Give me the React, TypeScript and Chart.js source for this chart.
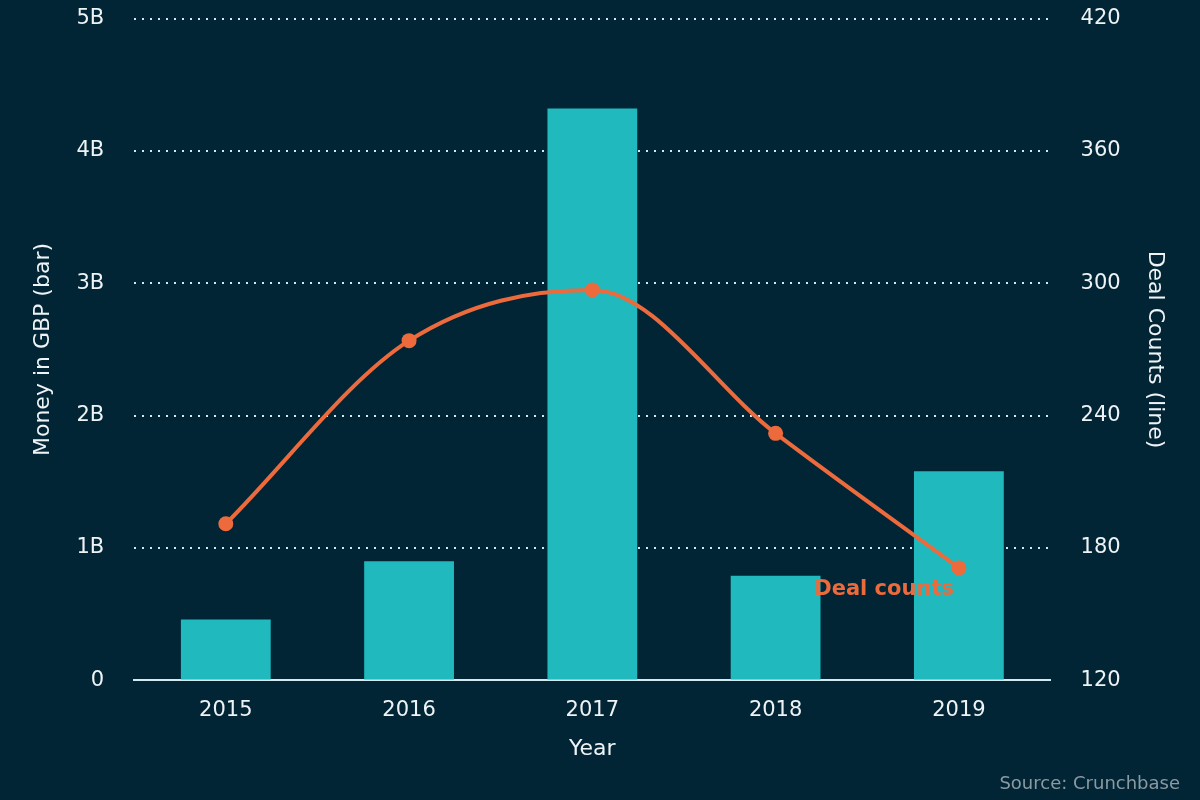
import React, { useEffect, useRef } from "react";
import { Chart, registerables } from "chart.js";

Chart.register(...registerables);

const years = ["2015", "2016", "2017", "2018", "2019"];
const moneyGBP = [0.46e9, 0.9e9, 4.32e9, 0.79e9, 1.58e9];
const dealCounts = [191, 274, 297, 232, 171];
const leftTitle = "Money in GBP (bar)";
const rightTitle = "Deal Counts (line)";
const xTitle = "Year";
const lineLabel = "Deal counts";
const sourceText = "Source: Crunchbase";

const BG = "#022536";
const BAR = "#1fb9be";
const LINE = "#ec6a3b";
const TXT = "#eef3f5";
const GRID = "#d2e9f1";
const FONT = "'DejaVu Sans', sans-serif";

const extras = {
  id: "extras",
  beforeDraw(chart: any) {
    const { ctx, width, height } = chart;
    ctx.save();
    ctx.fillStyle = BG;
    ctx.fillRect(0, 0, width, height);
    ctx.restore();
  },
  afterDraw(chart: any) {
    const { ctx, width } = chart;
    const meta = chart.getDatasetMeta(1);
    const last = meta.data[meta.data.length - 1];
    ctx.save();
    ctx.font = `bold 21px ${FONT}`;
    ctx.fillStyle = LINE;
    ctx.textAlign = "right";
    ctx.textBaseline = "middle";
    ctx.fillText(lineLabel, last.x - 5, last.y + 22);
    ctx.font = `18px ${FONT}`;
    ctx.fillStyle = "#8a9aa3";
    ctx.textAlign = "right";
    ctx.textBaseline = "middle";
    ctx.fillText(sourceText, width - 20, 784);
    ctx.restore();
  },
};

export default function App() {
  const ref = useRef<HTMLCanvasElement>(null);
  useEffect(() => {
    if (!ref.current) return;
    const chart = new Chart(ref.current, {
      data: {
        labels: years,
        datasets: [
          {
            type: "bar",
            label: "Money",
            data: moneyGBP,
            backgroundColor: BAR,
            yAxisID: "y",
            barPercentage: 0.49,
            categoryPercentage: 1,
            order: 2,
          },
          {
            type: "line",
            label: "Deal counts",
            data: dealCounts,
            borderColor: LINE,
            backgroundColor: LINE,
            borderWidth: 4,
            pointRadius: 7.5,
            pointHoverRadius: 7.5,
            pointBorderWidth: 0,
            cubicInterpolationMode: "monotone",
            yAxisID: "y1",
            order: 1,
          },
        ],
      },
      options: {
        responsive: false,
        animation: false,
        layout: { padding: { left: 44, right: 47, top: 1, bottom: 20 } },
        plugins: { legend: { display: false }, tooltip: { enabled: false } },
        scales: {
          x: {
            grid: { display: false, drawTicks: false },
            border: { color: GRID, width: 2 },
            ticks: { color: TXT, font: { family: FONT, size: 21 }, padding: 18 },
            title: {
              display: true,
              text: xTitle,
              color: TXT,
              font: { family: FONT, size: 22 },
              padding: { top: -6, bottom: 18 },
            },
          },
          y: {
            position: "left",
            min: 0,
            max: 5e9,
            ticks: {
              stepSize: 1e9,
              color: TXT,
              font: { family: FONT, size: 21 },
              padding: 6,
              callback: (v: any) => (v === 0 ? "0" : v / 1e9 + "B"),
            },
            grid: {
              drawTicks: true,
              tickLength: 24,
              tickColor: "rgba(0,0,0,0)",
              color: (c: any) => (c.tick && c.tick.value === 0 ? "rgba(0,0,0,0)" : GRID),
              lineWidth: 2,
            },
            border: { display: false, dash: [2, 6] },
            title: {
              display: true,
              text: leftTitle,
              color: TXT,
              font: { family: FONT, size: 22 },
              padding: { top: -14, bottom: 14 },
            },
          },
          y1: {
            position: "right",
            min: 120,
            max: 420,
            ticks: {
              stepSize: 60,
              color: TXT,
              font: { family: FONT, size: 21 },
              padding: 6,
            },
            grid: {
              display: true,
              drawOnChartArea: false,
              drawTicks: true,
              tickLength: 24,
              tickColor: "rgba(0,0,0,0)",
              color: "rgba(0,0,0,0)",
            },
            border: { display: false },
            title: {
              display: true,
              text: rightTitle,
              color: TXT,
              font: { family: FONT, size: 22 },
              padding: { top: -15, bottom: 15 },
            },
          },
        },
      },
      plugins: [extras],
    } as any);
    return () => chart.destroy();
  }, []);
  return (
    <div style={{ position: "fixed", left: 0, top: 0, width: 1200, height: 800, background: BG }}>
      <canvas ref={ref} width={1200} height={800} />
    </div>
  );
}
